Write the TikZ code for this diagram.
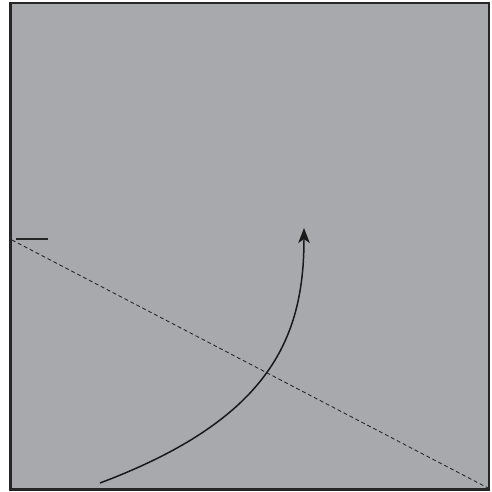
\documentclass[tikz,border=0pt]{standalone}
\usepackage{xcolor}
\usetikzlibrary{arrows.meta}
\definecolor{panelgray}{RGB}{167,169,172}

\begin{document}
\begin{tikzpicture}[
  x=0.02cm, y=-0.02cm,
  panel/.style={draw=black!85, fill=panelgray, line width=1.5pt},
  cut/.style={black!85, line width=0.5pt, dash pattern=on 2.2pt off 1.6pt},
  tick/.style={black!85, line width=0.8pt},
  arr/.style={-{Stealth[length=3mm, width=2.3mm, inset=0.8mm]}, black!90, line width=0.85pt}
]
\useasboundingbox (0,0) rectangle (492,492);
\draw[panel] (10.5,3) rectangle (489,489.5);
% reference points
\coordinate (left) at (12,240);
\coordinate (corner) at (488,488);
\coordinate (tickstart) at (16,239);
\coordinate (tickend) at (48,239);
\coordinate (start) at (100,483);
\coordinate (tip) at (304,228);
\draw[cut] (left) -- (corner);
\draw[tick] (tickstart) -- (tickend);
\draw[arr] (start) .. controls (270,419) and (304,338) .. (tip);
\end{tikzpicture}
\end{document}
